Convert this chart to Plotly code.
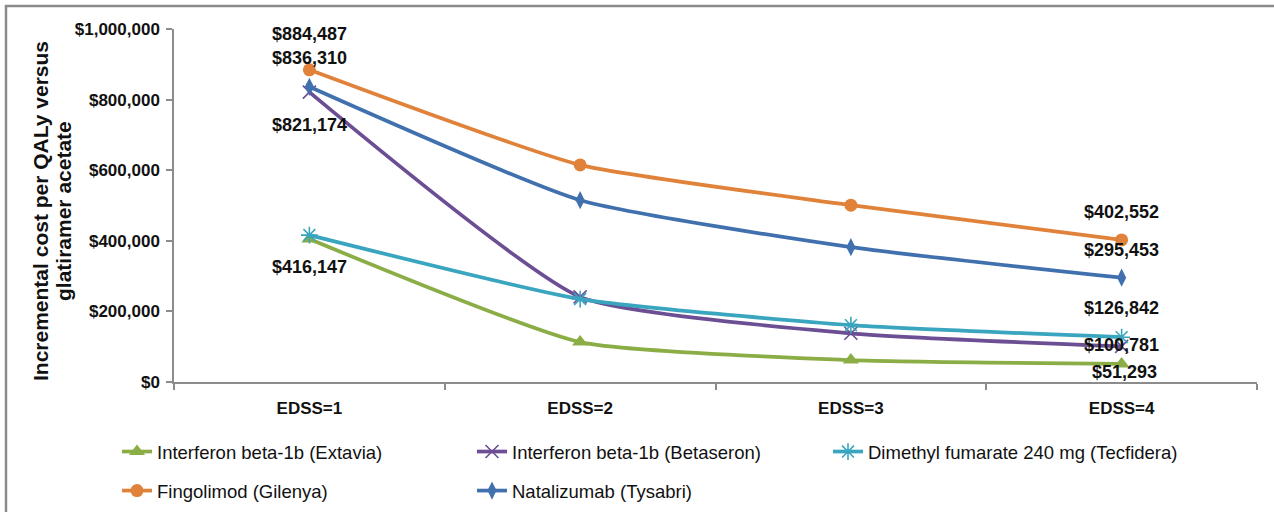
import plotly.graph_objects as go

categories = ["EDSS=1", "EDSS=2", "EDSS=3", "EDSS=4"]

extavia = [405000, 113000, 62000, 51293]
betaseron = [821174, 241000, 138000, 100781]
tecfidera = [416147, 235000, 161000, 126842]
gilenya = [884487, 615000, 501000, 402552]
tysabri = [836310, 515000, 382000, 295453]

names = [
    "Interferon beta-1b (Extavia)",
    "Interferon beta-1b (Betaseron)",
    "Dimethyl fumarate 240 mg (Tecfidera)",
    "Fingolimod (Gilenya)",
    "Natalizumab (Tysabri)",
]

# labelled points: (series index, category index)
labelled = [(3, 0), (4, 0), (1, 0), (2, 0), (3, 3), (4, 3), (2, 3), (1, 3), (0, 3)]

# style
series = [extavia, betaseron, tecfidera, gilenya, tysabri]
colors = ["#8AAD45", "#6B4E93", "#3AA5BE", "#E0823A", "#4070AD"]
symbols = ["triangle-up", "x-thin-open", "asterisk-open", "circle", "diamond-tall"]
msizes = [14, 13, 14, 13, 13]
legend_ids = ["legend", "legend2", "legend3", "legend", "legend2"]
label_shift = {(3, 0): 36, (4, 0): 29, (1, 0): -33, (2, 0): -32,
               (3, 3): 28, (4, 3): 28, (2, 3): 29, (1, 3): 1, (0, 3): -8}
label_xshift = {(0, 3): 3}

FONT = "Liberation Sans, Arial, sans-serif"
AXIS_GREY = "#8c8c8c"

fig = go.Figure()
for i, (vals, nm) in enumerate(zip(series, names)):
    sym = symbols[i]
    marker = dict(symbol=sym, size=msizes[i], color=colors[i])
    if sym.endswith("open"):
        marker["line"] = dict(color=colors[i], width=1.6)
    fig.add_trace(go.Scatter(
        x=categories, y=vals, name=nm, mode="lines+markers",
        line=dict(color=colors[i], width=3.7, shape="spline", smoothing=0.5),
        marker=marker, legend=legend_ids[i], legendgroup=nm,
    ))

for (si, ci) in labelled:
    v = series[si][ci]
    fig.add_annotation(
        x=categories[ci], y=v, text=f"${v:,.0f}", showarrow=False,
        yshift=label_shift[(si, ci)], xshift=label_xshift.get((si, ci), 0),
        font=dict(family=FONT, size=18, color="#111111", weight="bold"),
    )

L, R, T, B = 174, 17, 29, 130
W, H = 1274, 512
pw, ph = W - L - R, H - T - B


def px_x(p):
    return (p - L) / pw


def px_y(p):
    return (H - B - p) / ph


# y-axis title (two lines)
for txt, xp in [("Incremental cost per QALy versus", 40), ("glatiramer acetate", 63)]:
    fig.add_annotation(
        xref="paper", yref="paper", x=px_x(xp), y=px_y(211), text=txt,
        showarrow=False, textangle=-90, xanchor="center", yanchor="middle",
        font=dict(family=FONT, size=21, color="#111111", weight="bold"),
    )

# outer border
fig.add_shape(type="rect", xref="paper", yref="paper",
              x0=px_x(6), x1=px_x(1282), y0=px_y(520), y1=px_y(6),
              line=dict(color="#8a8a8a", width=2.5), fillcolor="rgba(0,0,0,0)")

leg_common = dict(
    orientation="v", xanchor="left", yanchor="top", bgcolor="rgba(0,0,0,0)",
    font=dict(family=FONT, size=18.5, color="#111111"), tracegroupgap=12,
    itemclick=False, itemdoubleclick=False,
)
fig.update_layout(
    width=W, height=H, autosize=False,
    margin=dict(l=L, r=R, t=T, b=B, pad=0, autoexpand=False),
    paper_bgcolor="white", plot_bgcolor="white",
    font=dict(family=FONT, color="#111111"),
    showlegend=True,
    legend=dict(x=px_x(117), y=px_y(433), **leg_common),
    legend2=dict(x=px_x(472), y=px_y(433), **leg_common),
    legend3=dict(x=px_x(828), y=px_y(433), **leg_common),
    xaxis=dict(
        type="category", showline=True, linecolor=AXIS_GREY, linewidth=1.5,
        ticks="outside", tickson="boundaries", ticklen=6, tickcolor=AXIS_GREY,
        tickwidth=1.5, showgrid=False, zeroline=False, ticklabelstandoff=10,
        tickfont=dict(family=FONT, size=17, color="#111111", weight="bold"),
        range=[-0.5, 3.5],
    ),
    yaxis=dict(
        range=[0, 1000000], dtick=200000, tickformat=",.0f", tickprefix="$",
        showline=True, linecolor=AXIS_GREY, linewidth=1.5, ticks="outside",
        ticklen=6, tickcolor=AXIS_GREY, tickwidth=1.5, showgrid=False,
        zeroline=False, ticklabelstandoff=3,
        tickfont=dict(family=FONT, size=17, color="#111111", weight="bold"),
    ),
)

fig.write_html("out.html")
